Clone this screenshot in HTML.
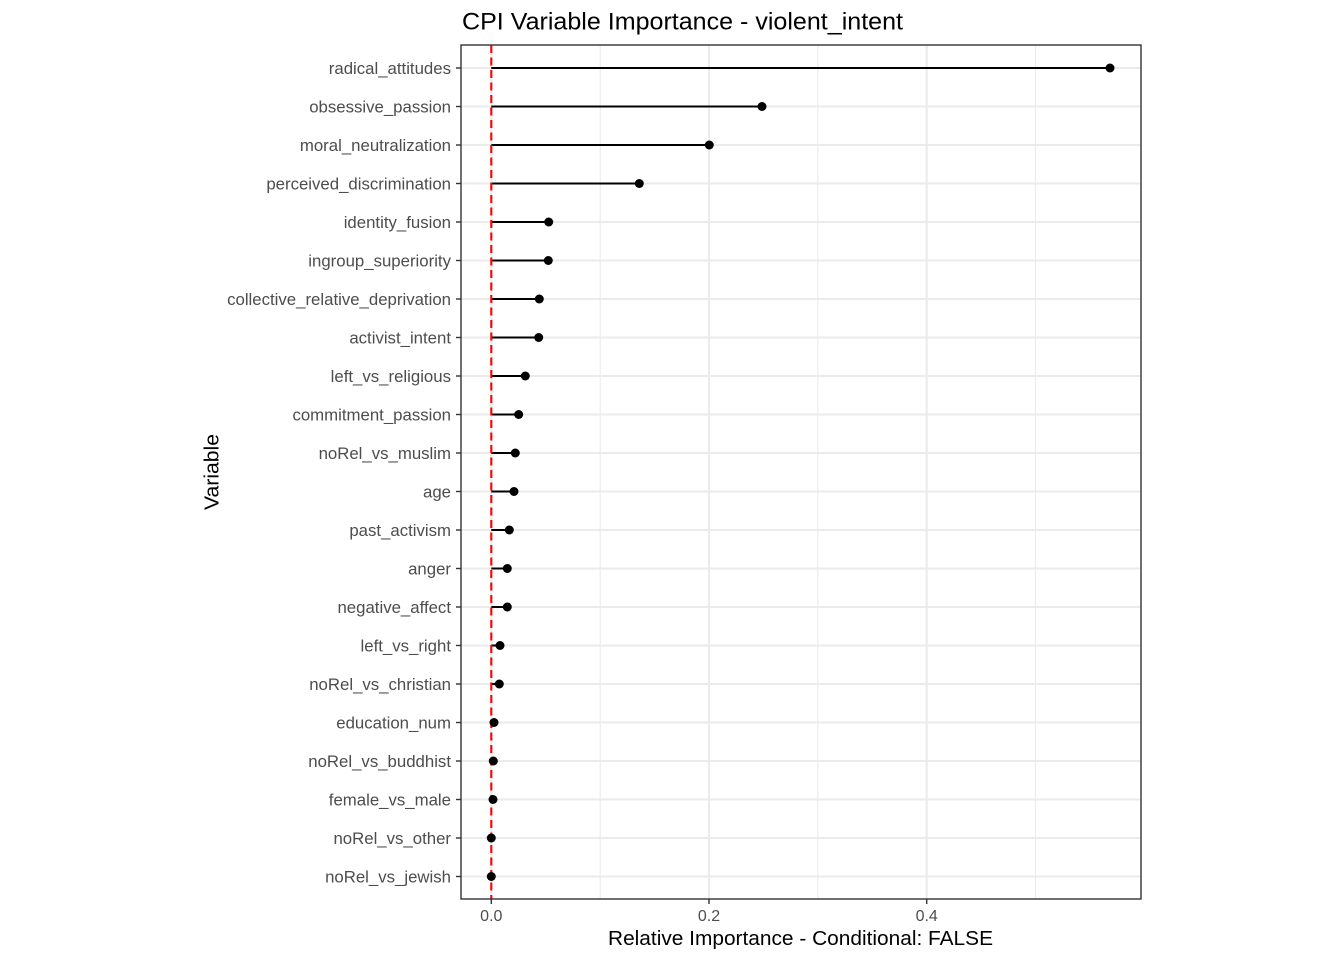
<!DOCTYPE html>
<html>
<head>
<meta charset="utf-8">
<style>
html,body{margin:0;padding:0;background:#fff;}
svg{display:block;}
text{font-family:"Liberation Sans",Arial,Helvetica,sans-serif;}
</style>
</head>
<body>
<svg width="1344" height="960" viewBox="0 0 1344 960" xmlns="http://www.w3.org/2000/svg">
<rect x="0" y="0" width="1344" height="960" fill="#fff"/>
<!-- title -->
<text x="462" y="29.5" font-size="24.5" fill="#000" textLength="441" lengthAdjust="spacingAndGlyphs">CPI Variable Importance - violent_intent</text>
<!-- panel background -->
<rect x="461" y="45" width="680" height="854" fill="#fff"/>
<!-- minor vertical grid -->
<g stroke="#EBEBEB" stroke-width="1.1">
<line x1="600.2" y1="45" x2="600.2" y2="899"/>
<line x1="817.8" y1="45" x2="817.8" y2="899"/>
<line x1="1035.5" y1="45" x2="1035.5" y2="899"/>
</g>
<!-- major vertical grid -->
<g stroke="#EBEBEB" stroke-width="2.1">
<line x1="491.3" y1="45" x2="491.3" y2="899"/>
<line x1="709" y1="45" x2="709" y2="899"/>
<line x1="926.7" y1="45" x2="926.7" y2="899"/>
</g>
<!-- major horizontal grid -->
<g stroke="#EBEBEB" stroke-width="2.1">
<line x1="461" y1="68" x2="1141" y2="68"/>
<line x1="461" y1="106.5" x2="1141" y2="106.5"/>
<line x1="461" y1="145" x2="1141" y2="145"/>
<line x1="461" y1="183.5" x2="1141" y2="183.5"/>
<line x1="461" y1="222" x2="1141" y2="222"/>
<line x1="461" y1="260.5" x2="1141" y2="260.5"/>
<line x1="461" y1="299" x2="1141" y2="299"/>
<line x1="461" y1="337.5" x2="1141" y2="337.5"/>
<line x1="461" y1="376" x2="1141" y2="376"/>
<line x1="461" y1="414.5" x2="1141" y2="414.5"/>
<line x1="461" y1="453" x2="1141" y2="453"/>
<line x1="461" y1="491.5" x2="1141" y2="491.5"/>
<line x1="461" y1="530" x2="1141" y2="530"/>
<line x1="461" y1="568.5" x2="1141" y2="568.5"/>
<line x1="461" y1="607" x2="1141" y2="607"/>
<line x1="461" y1="645.5" x2="1141" y2="645.5"/>
<line x1="461" y1="684" x2="1141" y2="684"/>
<line x1="461" y1="722.5" x2="1141" y2="722.5"/>
<line x1="461" y1="761" x2="1141" y2="761"/>
<line x1="461" y1="799.5" x2="1141" y2="799.5"/>
<line x1="461" y1="838" x2="1141" y2="838"/>
<line x1="461" y1="876.5" x2="1141" y2="876.5"/>
</g>
<!-- segments -->
<g stroke="#000" stroke-width="2.1">
<line x1="491.3" y1="68" x2="1110" y2="68"/>
<line x1="491.3" y1="106.5" x2="762" y2="106.5"/>
<line x1="491.3" y1="145" x2="709.3" y2="145"/>
<line x1="491.3" y1="183.5" x2="639.3" y2="183.5"/>
<line x1="491.3" y1="222" x2="548.7" y2="222"/>
<line x1="491.3" y1="260.5" x2="548.3" y2="260.5"/>
<line x1="491.3" y1="299" x2="539.3" y2="299"/>
<line x1="491.3" y1="337.5" x2="538.7" y2="337.5"/>
<line x1="491.3" y1="376" x2="525.3" y2="376"/>
<line x1="491.3" y1="414.5" x2="518.7" y2="414.5"/>
<line x1="491.3" y1="453" x2="515.3" y2="453"/>
<line x1="491.3" y1="491.5" x2="514" y2="491.5"/>
<line x1="491.3" y1="530" x2="509.3" y2="530"/>
<line x1="491.3" y1="568.5" x2="507.3" y2="568.5"/>
<line x1="491.3" y1="607" x2="507.3" y2="607"/>
<line x1="491.3" y1="645.5" x2="500" y2="645.5"/>
<line x1="491.3" y1="684" x2="499.3" y2="684"/>
<line x1="491.3" y1="722.5" x2="494" y2="722.5"/>
<line x1="491.3" y1="761" x2="493.3" y2="761"/>
<line x1="491.3" y1="799.5" x2="493" y2="799.5"/>
</g>
<!-- red dashed zero line -->
<line x1="491.3" y1="45" x2="491.3" y2="899" stroke="#FF0000" stroke-width="2.1" stroke-dasharray="8 4.5"/>
<!-- points -->
<g fill="#000">
<circle cx="1110" cy="68" r="4.5"/>
<circle cx="762" cy="106.5" r="4.5"/>
<circle cx="709.3" cy="145" r="4.5"/>
<circle cx="639.3" cy="183.5" r="4.5"/>
<circle cx="548.7" cy="222" r="4.5"/>
<circle cx="548.3" cy="260.5" r="4.5"/>
<circle cx="539.3" cy="299" r="4.5"/>
<circle cx="538.7" cy="337.5" r="4.5"/>
<circle cx="525.3" cy="376" r="4.5"/>
<circle cx="518.7" cy="414.5" r="4.5"/>
<circle cx="515.3" cy="453" r="4.5"/>
<circle cx="514" cy="491.5" r="4.5"/>
<circle cx="509.3" cy="530" r="4.5"/>
<circle cx="507.3" cy="568.5" r="4.5"/>
<circle cx="507.3" cy="607" r="4.5"/>
<circle cx="500" cy="645.5" r="4.5"/>
<circle cx="499.3" cy="684" r="4.5"/>
<circle cx="494" cy="722.5" r="4.5"/>
<circle cx="493.3" cy="761" r="4.5"/>
<circle cx="493" cy="799.5" r="4.5"/>
<circle cx="491.3" cy="838" r="4.5"/>
<circle cx="491.3" cy="876.5" r="4.5"/>
</g>
<!-- panel border -->
<rect x="461" y="45" width="680" height="854" fill="none" stroke="#333333" stroke-width="1.4"/>
<!-- y ticks -->
<g stroke="#333333" stroke-width="1.4">
<line x1="456" y1="68" x2="461" y2="68"/>
<line x1="456" y1="106.5" x2="461" y2="106.5"/>
<line x1="456" y1="145" x2="461" y2="145"/>
<line x1="456" y1="183.5" x2="461" y2="183.5"/>
<line x1="456" y1="222" x2="461" y2="222"/>
<line x1="456" y1="260.5" x2="461" y2="260.5"/>
<line x1="456" y1="299" x2="461" y2="299"/>
<line x1="456" y1="337.5" x2="461" y2="337.5"/>
<line x1="456" y1="376" x2="461" y2="376"/>
<line x1="456" y1="414.5" x2="461" y2="414.5"/>
<line x1="456" y1="453" x2="461" y2="453"/>
<line x1="456" y1="491.5" x2="461" y2="491.5"/>
<line x1="456" y1="530" x2="461" y2="530"/>
<line x1="456" y1="568.5" x2="461" y2="568.5"/>
<line x1="456" y1="607" x2="461" y2="607"/>
<line x1="456" y1="645.5" x2="461" y2="645.5"/>
<line x1="456" y1="684" x2="461" y2="684"/>
<line x1="456" y1="722.5" x2="461" y2="722.5"/>
<line x1="456" y1="761" x2="461" y2="761"/>
<line x1="456" y1="799.5" x2="461" y2="799.5"/>
<line x1="456" y1="838" x2="461" y2="838"/>
<line x1="456" y1="876.5" x2="461" y2="876.5"/>
<!-- x ticks -->
<line x1="491.3" y1="899" x2="491.3" y2="904"/>
<line x1="709" y1="899" x2="709" y2="904"/>
<line x1="926.7" y1="899" x2="926.7" y2="904"/>
</g>
<!-- y tick labels -->
<g font-size="16.8" fill="#4D4D4D" text-anchor="end">
<text x="451" y="73.9">radical_attitudes</text>
<text x="451" y="112.4">obsessive_passion</text>
<text x="451" y="150.9">moral_neutralization</text>
<text x="451" y="189.4">perceived_discrimination</text>
<text x="451" y="227.9">identity_fusion</text>
<text x="451" y="266.4">ingroup_superiority</text>
<text x="451" y="304.9">collective_relative_deprivation</text>
<text x="451" y="343.4">activist_intent</text>
<text x="451" y="381.9">left_vs_religious</text>
<text x="451" y="420.4">commitment_passion</text>
<text x="451" y="458.9">noRel_vs_muslim</text>
<text x="451" y="497.4">age</text>
<text x="451" y="535.9">past_activism</text>
<text x="451" y="574.4">anger</text>
<text x="451" y="612.9">negative_affect</text>
<text x="451" y="651.4">left_vs_right</text>
<text x="451" y="689.9">noRel_vs_christian</text>
<text x="451" y="728.4">education_num</text>
<text x="451" y="766.9">noRel_vs_buddhist</text>
<text x="451" y="805.4">female_vs_male</text>
<text x="451" y="843.9">noRel_vs_other</text>
<text x="451" y="882.4">noRel_vs_jewish</text>
</g>
<!-- x tick labels -->
<g font-size="16" fill="#4D4D4D" text-anchor="middle">
<text x="491.3" y="921">0.0</text>
<text x="709" y="921">0.2</text>
<text x="926.7" y="921">0.4</text>
</g>
<!-- axis titles -->
<text x="800.5" y="945" font-size="20" fill="#000" text-anchor="middle" textLength="385" lengthAdjust="spacingAndGlyphs">Relative Importance - Conditional: FALSE</text>
<text x="0" y="0" font-size="20" fill="#000" text-anchor="middle" textLength="76" lengthAdjust="spacingAndGlyphs" transform="translate(218.5,472) rotate(-90)">Variable</text>
</svg>
</body>
</html>
